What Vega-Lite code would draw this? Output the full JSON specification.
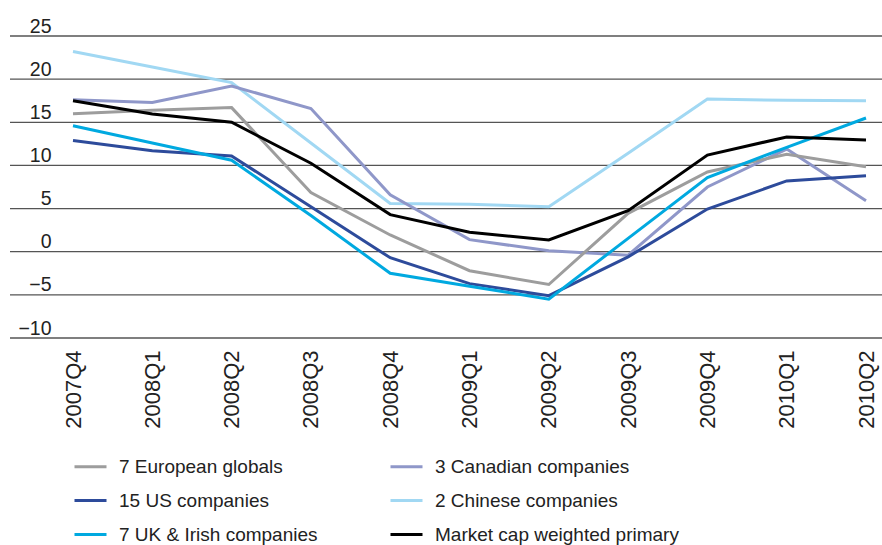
{
  "$schema": "https://vega.github.io/schema/vega-lite/v6.json",
  "width": 872,
  "height": 302,
  "autosize": "none",
  "padding": {"left": 10, "top": 36, "right": 0, "bottom": 207},
  "background": "white",
  "config": {"view": {"stroke": null}, "font": "Liberation Sans"},
  "datasets": {
    "grid": [
      {"level": -10}, {"level": -5}, {"level": 0}, {"level": 5},
      {"level": 10}, {"level": 15}, {"level": 20}, {"level": 25}
    ],
    "series": [
      {"series": "2 Chinese companies", "quarter": "2007Q4", "value": 23.2},
      {"series": "2 Chinese companies", "quarter": "2008Q1", "value": 21.4},
      {"series": "2 Chinese companies", "quarter": "2008Q2", "value": 19.6},
      {"series": "2 Chinese companies", "quarter": "2008Q3", "value": 12.6},
      {"series": "2 Chinese companies", "quarter": "2008Q4", "value": 5.6},
      {"series": "2 Chinese companies", "quarter": "2009Q1", "value": 5.5},
      {"series": "2 Chinese companies", "quarter": "2009Q2", "value": 5.2},
      {"series": "2 Chinese companies", "quarter": "2009Q3", "value": 11.4},
      {"series": "2 Chinese companies", "quarter": "2009Q4", "value": 17.7},
      {"series": "2 Chinese companies", "quarter": "2010Q1", "value": 17.55},
      {"series": "2 Chinese companies", "quarter": "2010Q2", "value": 17.5},
      {"series": "3 Canadian companies", "quarter": "2007Q4", "value": 17.6},
      {"series": "3 Canadian companies", "quarter": "2008Q1", "value": 17.3},
      {"series": "3 Canadian companies", "quarter": "2008Q2", "value": 19.2},
      {"series": "3 Canadian companies", "quarter": "2008Q3", "value": 16.6},
      {"series": "3 Canadian companies", "quarter": "2008Q4", "value": 6.6},
      {"series": "3 Canadian companies", "quarter": "2009Q1", "value": 1.4},
      {"series": "3 Canadian companies", "quarter": "2009Q2", "value": 0.1},
      {"series": "3 Canadian companies", "quarter": "2009Q3", "value": -0.4},
      {"series": "3 Canadian companies", "quarter": "2009Q4", "value": 7.5},
      {"series": "3 Canadian companies", "quarter": "2010Q1", "value": 11.9},
      {"series": "3 Canadian companies", "quarter": "2010Q2", "value": 5.9},
      {"series": "7 European globals", "quarter": "2007Q4", "value": 16.0},
      {"series": "7 European globals", "quarter": "2008Q1", "value": 16.4},
      {"series": "7 European globals", "quarter": "2008Q2", "value": 16.7},
      {"series": "7 European globals", "quarter": "2008Q3", "value": 6.85},
      {"series": "7 European globals", "quarter": "2008Q4", "value": 1.94},
      {"series": "7 European globals", "quarter": "2009Q1", "value": -2.2},
      {"series": "7 European globals", "quarter": "2009Q2", "value": -3.8},
      {"series": "7 European globals", "quarter": "2009Q3", "value": 4.45},
      {"series": "7 European globals", "quarter": "2009Q4", "value": 9.24},
      {"series": "7 European globals", "quarter": "2010Q1", "value": 11.3},
      {"series": "7 European globals", "quarter": "2010Q2", "value": 9.85},
      {"series": "15 US companies", "quarter": "2007Q4", "value": 12.9},
      {"series": "15 US companies", "quarter": "2008Q1", "value": 11.7},
      {"series": "15 US companies", "quarter": "2008Q2", "value": 11.1},
      {"series": "15 US companies", "quarter": "2008Q3", "value": 5.2},
      {"series": "15 US companies", "quarter": "2008Q4", "value": -0.7},
      {"series": "15 US companies", "quarter": "2009Q1", "value": -3.7},
      {"series": "15 US companies", "quarter": "2009Q2", "value": -5.1},
      {"series": "15 US companies", "quarter": "2009Q3", "value": -0.6},
      {"series": "15 US companies", "quarter": "2009Q4", "value": 4.95},
      {"series": "15 US companies", "quarter": "2010Q1", "value": 8.2},
      {"series": "15 US companies", "quarter": "2010Q2", "value": 8.8},
      {"series": "7 UK & Irish companies", "quarter": "2007Q4", "value": 14.6},
      {"series": "7 UK & Irish companies", "quarter": "2008Q1", "value": 12.6},
      {"series": "7 UK & Irish companies", "quarter": "2008Q2", "value": 10.6},
      {"series": "7 UK & Irish companies", "quarter": "2008Q3", "value": 4.2},
      {"series": "7 UK & Irish companies", "quarter": "2008Q4", "value": -2.5},
      {"series": "7 UK & Irish companies", "quarter": "2009Q1", "value": -4.0},
      {"series": "7 UK & Irish companies", "quarter": "2009Q2", "value": -5.5},
      {"series": "7 UK & Irish companies", "quarter": "2009Q3", "value": 1.55},
      {"series": "7 UK & Irish companies", "quarter": "2009Q4", "value": 8.6},
      {"series": "7 UK & Irish companies", "quarter": "2010Q1", "value": 12.1},
      {"series": "7 UK & Irish companies", "quarter": "2010Q2", "value": 15.5},
      {"series": "Market cap weighted primary", "quarter": "2007Q4", "value": 17.5},
      {"series": "Market cap weighted primary", "quarter": "2008Q1", "value": 15.96},
      {"series": "Market cap weighted primary", "quarter": "2008Q2", "value": 15.0},
      {"series": "Market cap weighted primary", "quarter": "2008Q3", "value": 10.25},
      {"series": "Market cap weighted primary", "quarter": "2008Q4", "value": 4.3},
      {"series": "Market cap weighted primary", "quarter": "2009Q1", "value": 2.25},
      {"series": "Market cap weighted primary", "quarter": "2009Q2", "value": 1.36},
      {"series": "Market cap weighted primary", "quarter": "2009Q3", "value": 4.75},
      {"series": "Market cap weighted primary", "quarter": "2009Q4", "value": 11.2},
      {"series": "Market cap weighted primary", "quarter": "2010Q1", "value": 13.3},
      {"series": "Market cap weighted primary", "quarter": "2010Q2", "value": 12.95}
    ]
  },
  "layer": [
    {
      "data": {"name": "grid"},
      "mark": {"type": "rule", "color": "#555", "strokeWidth": 1.3},
      "encoding": {
        "y": {
          "field": "level",
          "type": "quantitative",
          "scale": {"domain": [-10, 25], "nice": false, "zero": false},
          "axis": {
            "title": null,
            "values": [-10, -5, 0, 5, 10, 15, 20, 25],
            "grid": false,
            "domain": false,
            "ticks": false,
            "tickSize": 0,
            "labelPadding": -41,
            "labelAlign": "right",
            "labelBaseline": "bottom",
            "labelDy": -5,
            "labelFontSize": 19.5,
            "labelColor": "#222",
            "labelFlush": false
          }
        }
      }
    },
    {
      "data": {"name": "series"},
      "mark": {"type": "line", "strokeWidth": 3},
      "encoding": {
        "x": {
          "field": "quarter",
          "type": "ordinal",
          "sort": null,
          "scale": {"type": "point", "range": [63, 856], "padding": 0},
          "axis": {
            "title": null,
            "labelAngle": -90,
            "labelFontSize": 22,
            "labelPadding": 12,
            "labelColor": "#222",
            "domain": false,
            "ticks": false,
            "tickSize": 0,
            "grid": false
          }
        },
        "y": {"field": "value", "type": "quantitative"},
        "color": {
          "field": "series",
          "type": "nominal",
          "scale": {
            "domain": ["7 European globals", "3 Canadian companies", "15 US companies", "2 Chinese companies", "7 UK & Irish companies", "Market cap weighted primary"],
            "range": ["#9d9d9d", "#8f97c9", "#2d4b9b", "#a1d8f3", "#00a9e0", "#000000"]
          },
          "legend": {
            "title": null,
            "orient": "none",
            "legendX": 63,
            "legendY": 413,
            "direction": "horizontal",
            "columns": 2,
            "padding": 0,
            "symbolType": "stroke",
            "symbolSize": 1024,
            "symbolStrokeWidth": 3,
            "labelFontSize": 19,
            "labelColor": "#222",
            "labelOffset": 11,
            "labelLimit": 400,
            "rowPadding": 6,
            "columnPadding": 66
          }
        }
      }
    }
  ]
}
